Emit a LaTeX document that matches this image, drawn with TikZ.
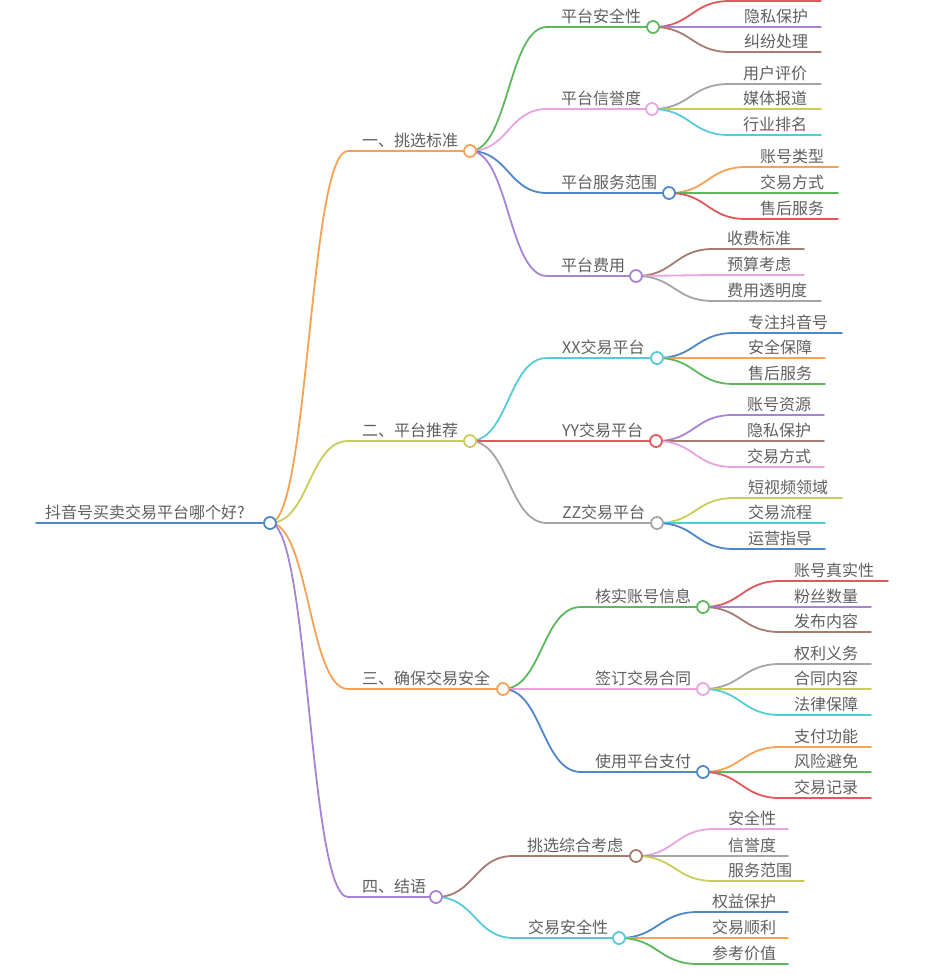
\documentclass[tikz,border=0pt]{standalone}
\usepackage{fontspec}
\setmainfont{Noto Sans CJK SC}
\usetikzlibrary{calc}
\definecolor{cblue}{HTML}{4E86C6}
\definecolor{corange}{HTML}{F7A154}
\definecolor{colive}{HTML}{CACC5A}
\definecolor{cpurple}{HTML}{A783D3}
\definecolor{cgreen}{HTML}{5CB85C}
\definecolor{cpink}{HTML}{E9A3DF}
\definecolor{cred}{HTML}{E0585B}
\definecolor{cbrown}{HTML}{A57B72}
\definecolor{cgray}{HTML}{A5A5A5}
\definecolor{ccyan}{HTML}{55CBDA}
\definecolor{ctext}{HTML}{5F5F5F}
\tikzset{
  edge/.style={line width=1.8pt, line cap=round},
  lbl/.style={inner sep=0pt, anchor=base west, text=ctext, font=\fontsize{16}{16}\selectfont},
  dot/.style={circle, fill=white, line width=1.8pt, minimum size=12pt, inner sep=0pt},
}
% branch curve from parent coordinate #1 to child start coordinate #2 in colour #3
\newcommand\mmbranch[3]{\draw[edge,#3] (#1) .. controls ($(#1)!0.5!(#1 -| #2)$) and ($(#2)!0.5!(#2 -| #1)$) .. (#2);}
% inner node: parent, name, start x, y, circle x, text x, colour, text
\newcommand\mminner[8]{%
  \coordinate (#2s) at (#3,#4);
  \coordinate (#2) at (#5,#4);
  \mmbranch{#1}{#2s}{#7}
  \draw[edge,#7] (#2s) -- (#2);
  \node[lbl] (#2t) at (#6,{#4-5}) {#8};
}
% leaf: parent, name, y, text x, end x, colour, text
\newcommand\mmleaf[7]{%
  \coordinate (#2s) at ({#4-14},#3);
  \coordinate (#2e) at (#5,#3);
  \mmbranch{#1}{#2s}{#6}
  \draw[edge,#6] (#2s) -- (#2e);
  \node[lbl] (#2t) at (#4,{#3-5}) {#7};
}
\begin{document}
\begin{tikzpicture}[x=1pt,y=-1pt]
\useasboundingbox (0,0) rectangle (951,975);
% root
\coordinate (R0) at (36,523);
\coordinate (R) at (270,523);
\draw[edge,cblue] (R0) -- (R);
\node[lbl] (Rt) at (45,518) {抖音号买卖交易平台哪个好?};
% level 1
\mminner{R}{A}{348}{151}{470}{362}{corange}{一、挑选标准}
\mminner{R}{B}{348}{441}{470}{362}{colive}{二、平台推荐}
\mminner{R}{C}{348}{689}{503}{362}{corange}{三、确保交易安全}
\mminner{R}{D}{348}{897}{436}{362}{cpurple}{四、结语}
% level 2
\mminner{A}{Aa}{547}{27}{653}{561}{cgreen}{平台安全性}
\mminner{A}{Ab}{547}{109}{652}{561}{cpink}{平台信誉度}
\mminner{A}{Ac}{547}{193}{669}{561}{cblue}{平台服务范围}
\mminner{A}{Ad}{547}{276}{636}{561}{cpurple}{平台费用}
\mminner{B}{Ba}{547}{358}{657}{562}{ccyan}{XX交易平台}
\mminner{B}{Bb}{547}{441}{656}{562}{cred}{YY交易平台}
\mminner{B}{Bc}{547}{523}{657}{562}{cgray}{ZZ交易平台}
\mminner{C}{Ca}{581}{607}{703}{595}{cgreen}{核实账号信息}
\mminner{C}{Cb}{581}{689}{703}{595}{cpink}{签订交易合同}
\mminner{C}{Cc}{581}{772}{703}{595}{cblue}{使用平台支付}
\mminner{D}{Da}{513}{856}{636}{527}{cbrown}{挑选综合考虑}
\mminner{D}{Db}{514}{938}{619}{528}{ccyan}{交易安全性}
% level 3 leaves
\coordinate (Aa0s) at (730,1);
\coordinate (Aa0e) at (821,1);
\mmbranch{Aa}{Aa0s}{cred}
\draw[edge,cred] (Aa0s) -- (Aa0e);
\mmleaf{Aa}{Aa1}{27}{744}{821}{cpurple}{隐私保护}
\mmleaf{Aa}{Aa2}{52}{744}{821}{cbrown}{纠纷处理}
\mmleaf{Ab}{Ab1}{84}{743}{821}{cgray}{用户评价}
\mmleaf{Ab}{Ab2}{109}{743}{821}{colive}{媒体报道}
\mmleaf{Ab}{Ab3}{135}{743}{821}{ccyan}{行业排名}
\mmleaf{Ac}{Ac1}{167}{760}{838}{corange}{账号类型}
\mmleaf{Ac}{Ac2}{193}{760}{838}{cgreen}{交易方式}
\mmleaf{Ac}{Ac3}{219}{760}{838}{cred}{售后服务}
\mmleaf{Ad}{Ad1}{249}{727}{804}{cbrown}{收费标准}
\mmleaf{Ad}{Ad2}{275}{727}{804}{cpink}{预算考虑}
\mmleaf{Ad}{Ad3}{301}{727}{821}{cgray}{费用透明度}
\mmleaf{Ba}{Ba1}{333}{748}{842}{cblue}{专注抖音号}
\mmleaf{Ba}{Ba2}{358}{748}{825}{corange}{安全保障}
\mmleaf{Ba}{Ba3}{384}{748}{825}{cgreen}{售后服务}
\mmleaf{Bb}{Bb1}{415}{747}{824}{cpurple}{账号资源}
\mmleaf{Bb}{Bb2}{441}{747}{824}{cbrown}{隐私保护}
\mmleaf{Bb}{Bb3}{467}{747}{824}{cpink}{交易方式}
\mmleaf{Bc}{Bc1}{498}{748}{842}{colive}{短视频领域}
\mmleaf{Bc}{Bc2}{523}{748}{825}{ccyan}{交易流程}
\mmleaf{Bc}{Bc3}{549}{748}{825}{cblue}{运营指导}
\mmleaf{Ca}{Ca1}{581}{794}{888}{cred}{账号真实性}
\mmleaf{Ca}{Ca2}{607}{794}{871}{cpurple}{粉丝数量}
\mmleaf{Ca}{Ca3}{632}{794}{871}{cbrown}{发布内容}
\mmleaf{Cb}{Cb1}{664}{794}{871}{cgray}{权利义务}
\mmleaf{Cb}{Cb2}{689}{794}{871}{colive}{合同内容}
\mmleaf{Cb}{Cb3}{715}{794}{871}{ccyan}{法律保障}
\mmleaf{Cc}{Cc1}{747}{794}{871}{corange}{支付功能}
\mmleaf{Cc}{Cc2}{772}{794}{871}{cgreen}{风险避免}
\mmleaf{Cc}{Cc3}{798}{794}{871}{cred}{交易记录}
\mmleaf{Da}{Da1}{829}{728}{788}{cpink}{安全性}
\mmleaf{Da}{Da2}{856}{728}{788}{cgray}{信誉度}
\mmleaf{Da}{Da3}{881}{728}{804}{colive}{服务范围}
\mmleaf{Db}{Db1}{912}{712}{788}{cblue}{权益保护}
\mmleaf{Db}{Db2}{938}{712}{788}{corange}{交易顺利}
\mmleaf{Db}{Db3}{964}{712}{788}{cgreen}{参考价值}
% dots on top
\node[dot,draw=cblue] (Rd) at (R) {};
\node[dot,draw=corange] (Adot) at (A) {};
\node[dot,draw=colive] (Bdot) at (B) {};
\node[dot,draw=corange] (Cdot) at (C) {};
\node[dot,draw=cpurple] (Ddot) at (D) {};
\node[dot,draw=cgreen] (Aad) at (Aa) {};
\node[dot,draw=cpink] (Abd) at (Ab) {};
\node[dot,draw=cblue] (Acd) at (Ac) {};
\node[dot,draw=cpurple] (Add) at (Ad) {};
\node[dot,draw=ccyan] (Bad) at (Ba) {};
\node[dot,draw=cred] (Bbd) at (Bb) {};
\node[dot,draw=cgray] (Bcd) at (Bc) {};
\node[dot,draw=cgreen] (Cad) at (Ca) {};
\node[dot,draw=cpink] (Cbd) at (Cb) {};
\node[dot,draw=cblue] (Ccd) at (Cc) {};
\node[dot,draw=cbrown] (Dad) at (Da) {};
\node[dot,draw=ccyan] (Dbd) at (Db) {};
\end{tikzpicture}
\end{document}
